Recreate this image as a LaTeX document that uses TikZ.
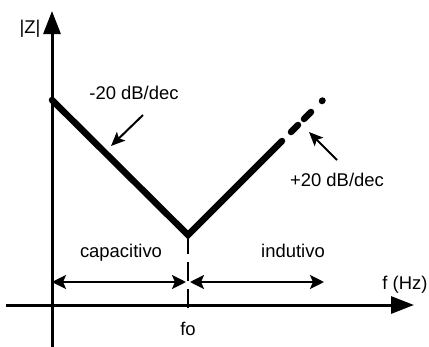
\documentclass[tikz,border=0pt]{standalone}
\usepackage{fontspec}
\setmainfont{Liberation Sans}
\usetikzlibrary{arrows.meta}
\begin{document}
\begin{tikzpicture}[x=1bp,y=-1bp,
  axis/.style={line width=3bp,-{Triangle[length=23bp,width=17bp]}},
  curve/.style={line width=6.5bp,line cap=round,line join=miter},
  dashline/.style={line width=2.8bp,dash pattern=on 19bp off 8bp},
  region/.style={line width=2.3bp,{Stealth[length=14bp,width=14bp,inset=3bp]}-{Stealth[length=14bp,width=14bp,inset=3bp]}},
  pointer/.style={line width=2bp,-{Stealth[length=14bp,width=12bp,inset=3bp]}},
  lbl/.style={font=\fontsize{18.5}{22}\selectfont,anchor=base,inner sep=0pt}]
\useasboundingbox (0,0) rectangle (429,347);
% axes
\coordinate (xs) at (6,305);
\coordinate (xe) at (414,305);
\coordinate (ys) at (52,347);
\coordinate (ye) at (52,11);
\draw[axis] (xs) -- (xe);
\draw[axis] (ys) -- (ye);
% impedance curve
\coordinate (A) at (52,100);
\coordinate (V) at (188,235);
\coordinate (B) at (282,141);
\coordinate (d1a) at (291,132);
\coordinate (d1b) at (298,125);
\coordinate (d2a) at (304,119);
\coordinate (d2b) at (311,112);
\coordinate (d3) at (322,101);
\draw[curve] (A) -- (V) -- (B);
\draw[curve] (d1a) -- (d1b);
\draw[curve] (d2a) -- (d2b);
\draw[curve] (d3) -- ++(0.5,-0.5);
% fo dashed line
\coordinate (fb) at (188,312);
\draw[dashline] (V) -- (fb);
% region arrows
\coordinate (L1) at (52,282);
\coordinate (M1) at (186,282);
\coordinate (M2) at (190,282);
\coordinate (R1) at (324,282);
\draw[region] (L1) -- (M1);
\draw[region] (M2) -- (R1);
% slope pointers
\coordinate (p1s) at (143,115);
\coordinate (p1e) at (111,146);
\coordinate (p2s) at (337,160);
\coordinate (p2e) at (309,132);
\draw[pointer] (p1s) -- (p1e);
\draw[pointer] (p2s) -- (p2e);
% labels
\node[lbl] (zl) at (30,33) {|Z|};
\node[lbl] (s1) at (134,99) {-20 dB/dec};
\node[lbl] (s2) at (337,186) {+20 dB/dec};
\node[lbl] (cap) at (121,257) {capacitivo};
\node[lbl] (ind) at (293,257) {indutivo};
\node[lbl] (fh) at (405,289) {f (Hz)};
\node[lbl] (fo) at (188,335) {fo};
\end{tikzpicture}
\end{document}
